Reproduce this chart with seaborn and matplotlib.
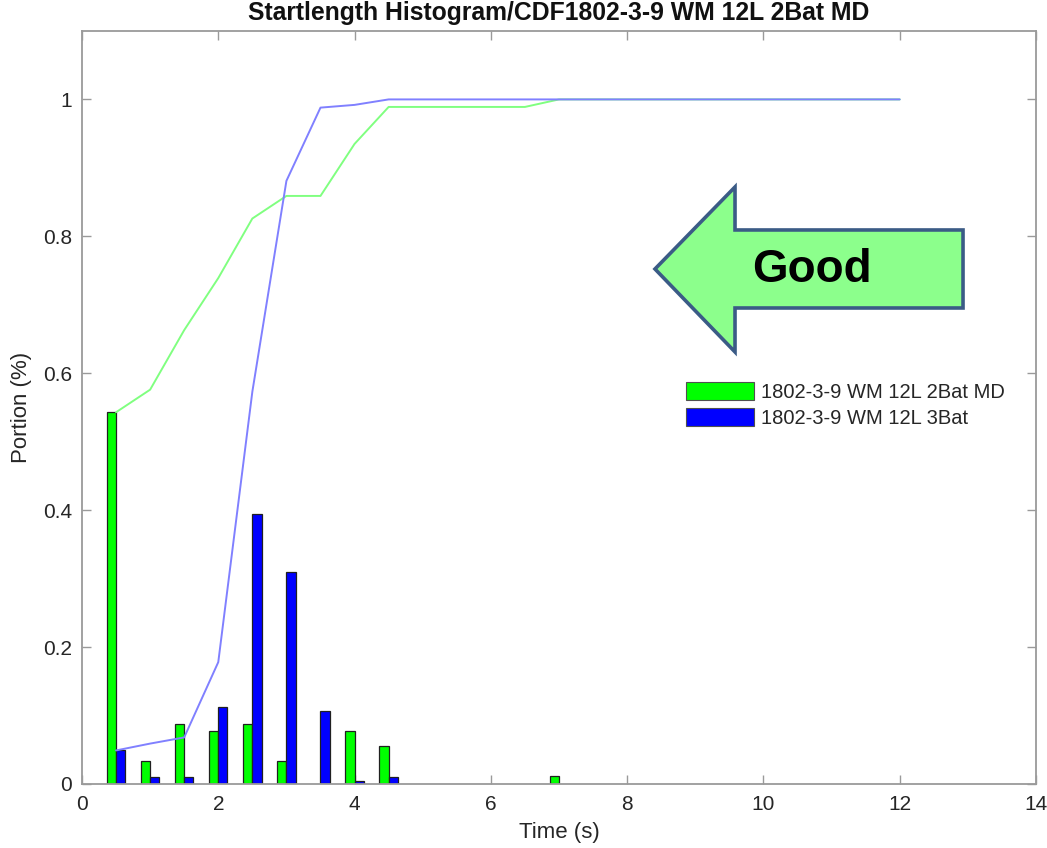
import matplotlib
matplotlib.use("Agg")
import matplotlib.pyplot as plt
from matplotlib.patches import Patch, Polygon
import numpy as np
import pandas as pd
import seaborn as sns

# Histogram bins (bin centres, seconds) and the portion of starts per bin
bin_centres = [0.5, 1.0, 1.5, 2.0, 2.5, 3.0, 3.5, 4.0, 4.5, 7.0]
hist_2bat = [0.543, 0.033, 0.088, 0.077, 0.088, 0.033, 0.0, 0.077, 0.055, 0.011]
hist_3bat = [0.049, 0.010, 0.010, 0.112, 0.395, 0.309, 0.107, 0.005, 0.010, 0.0]

# Cumulative distribution sampled every 0.5 s
cdf_time = [0.5, 1.0, 1.5, 2.0, 2.5, 3.0, 3.5, 4.0, 4.5, 5.0, 5.5, 6.0,
            6.5, 7.0, 7.5, 8.0, 8.5, 9.0, 9.5, 10.0, 10.5, 11.0, 11.5, 12.0]
cdf_2bat = [0.543, 0.576, 0.663, 0.739, 0.826, 0.859, 0.859, 0.935, 0.989,
            0.989, 0.989, 0.989, 0.989, 1.0, 1.0, 1.0, 1.0, 1.0, 1.0, 1.0,
            1.0, 1.0, 1.0, 1.0]
cdf_3bat = [0.049, 0.059, 0.068, 0.178, 0.573, 0.881, 0.988, 0.992, 1.0,
            1.0, 1.0, 1.0, 1.0, 1.0, 1.0, 1.0, 1.0, 1.0, 1.0, 1.0, 1.0, 1.0,
            1.0, 1.0]

series_names = ["1802-3-9 WM 12L 2Bat MD", "1802-3-9 WM 12L 3Bat"]
title_text = "Startlength Histogram/CDF1802-3-9 WM 12L 2Bat MD"
x_ticks = [0, 2, 4, 6, 8, 10, 12, 14]
y_ticks = [0, 0.2, 0.4, 0.6, 0.8, 1.0]
y_tick_labels = ["0", "0.2", "0.4", "0.6", "0.8", "1"]

bar_colors = ["#00ff00", "#0000ff"]
line_colors = ["#80ff80", "#8080ff"]
text_grey = "#262626"
axis_grey = "#9a9a9a"

sns.set_theme(style="white")
plt.rcParams["font.family"] = ["Liberation Sans", "DejaVu Sans"]

hist_df = pd.DataFrame({
    "time": bin_centres * 2,
    "portion": hist_2bat + hist_3bat,
    "series": [series_names[0]] * len(bin_centres) + [series_names[1]] * len(bin_centres),
})
hist_df = hist_df[hist_df["portion"] > 0]

cdf_df = pd.DataFrame({
    "time": cdf_time * 2,
    "portion": cdf_2bat + cdf_3bat,
    "series": [series_names[0]] * len(cdf_time) + [series_names[1]] * len(cdf_time),
})

fig = plt.figure(figsize=(10.47, 8.48), dpi=100)
ax = fig.add_axes([0.0783, 0.0755, 0.9112, 0.888])

sns.barplot(data=hist_df, x="time", y="portion", hue="series",
            hue_order=series_names, palette=bar_colors, saturation=1,
            native_scale=True, width=0.54, dodge=True, edgecolor="#202020",
            linewidth=0.9, legend=False, ax=ax, zorder=2)

sns.lineplot(data=cdf_df, x="time", y="portion", hue="series",
             hue_order=series_names, palette=line_colors, linewidth=1.4,
             legend=False, ax=ax, zorder=3)

ax.set_xlim(0, 14)
ax.set_ylim(0, 1.1)
ax.set_xticks(x_ticks)
ax.set_xticklabels([str(t) for t in x_ticks])
ax.set_yticks(y_ticks)
ax.set_yticklabels(y_tick_labels)

ax.tick_params(axis="both", which="major", direction="in", length=6.5,
               width=1.0, color=axis_grey, labelsize=15, labelcolor=text_grey,
               top=True, right=True, bottom=True, left=True)
ax.tick_params(axis="x", pad=8)
ax.tick_params(axis="y", pad=7)
for side in ["left", "right", "top", "bottom"]:
    ax.spines[side].set_visible(True)
    ax.spines[side].set_color(axis_grey)
    ax.spines[side].set_linewidth(1.3)

ax.set_xlabel("Time (s)", fontsize=16, color=text_grey, labelpad=6)
ax.set_ylabel("Portion (%)", fontsize=16, color=text_grey, labelpad=8)
ax.set_title(title_text, fontsize=17.8, fontweight="bold", color="#111111", pad=8)

handles = [Patch(facecolor=c, edgecolor="#505050", linewidth=0.8) for c in bar_colors]
ax.legend(handles=handles, labels=series_names, loc="upper left",
          bbox_to_anchor=(686 / 1047, 1 - 382 / 848), bbox_transform=fig.transFigure,
          frameon=False, fontsize=14.5, handlelength=3.4, handleheight=1.0,
          handletextpad=0.3, labelspacing=0.3, borderpad=0, borderaxespad=0,
          labelcolor=text_grey)

# "Good" call-out arrow pointing left, placed in axes-fraction coordinates
arrow_outline = [
    (0.6006, 0.6839),  # tip
    (0.6845, 0.7928),
    (0.6845, 0.7357),
    (0.9235, 0.7357),
    (0.9235, 0.6321),
    (0.6845, 0.6321),
    (0.6845, 0.5737),
]
ax.add_patch(Polygon(arrow_outline, closed=True, transform=ax.transAxes,
                     facecolor="#8cff8c", edgecolor="#3b5b86", linewidth=2.6,
                     joinstyle="miter", zorder=5, clip_on=False))
ax.text(0.7652, 0.6826, "Good", transform=ax.transAxes, ha="center", va="center",
        fontsize=33, fontweight="bold", color="black", zorder=6)

fig.savefig("out.png", dpi=100)
